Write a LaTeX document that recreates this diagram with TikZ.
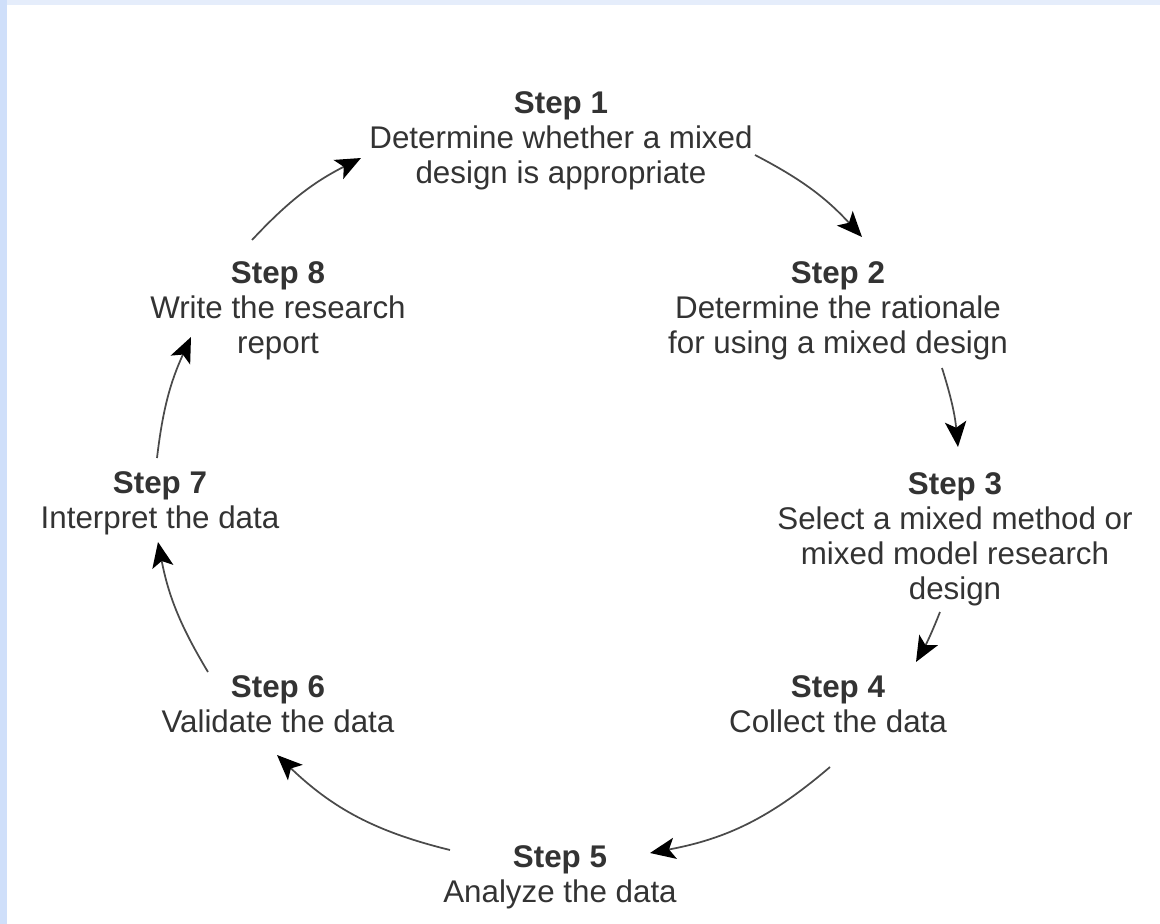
\documentclass[tikz,border=0pt]{standalone}
\usepackage{fontspec}
\setmainfont{Liberation Sans}
\usetikzlibrary{arrows.meta}
\definecolor{txt}{HTML}{333333}
\definecolor{linegray}{HTML}{4A4A4A}
\definecolor{edgeblue}{HTML}{CFDFFA}
\definecolor{topblue}{HTML}{E5EDFB}
\tikzset{
  stepnode/.style={align=center, inner sep=0pt, text=txt,
    font=\fontsize{23.5}{26.3}\selectfont},
  cyclearrow/.style={draw=linegray, line width=1.3pt,
    -{Stealth[length=19pt, width=16pt, inset=4.5pt, color=black, fill=black]}},
}
\begin{document}
\begin{tikzpicture}[x=0.75pt, y=-0.75pt]
  \useasboundingbox (0,0) rectangle (1160,924);
  % page background with the tinted frame on the top and left
  \fill[white] (0,0) rectangle (1160,924);
  \fill[topblue] (0,0) rectangle (1160,5);
  \fill[edgeblue] (0,0) rectangle (7,924);

  % the eight steps
  \node[stepnode] (s1) at (561,141) {\textbf{Step 1}\\Determine whether a mixed\\design is appropriate};
  \node[stepnode] (s2) at (838,311) {\textbf{Step 2}\\Determine the rationale\\for using a mixed design};
  \node[stepnode] (s3) at (955,539) {\textbf{Step 3}\\Select a mixed method or\\mixed model research\\design};
  \node[stepnode] (s4) at (838,704) {\textbf{Step 4}\\Collect the data};
  \node[stepnode] (s5) at (560,877) {\textbf{Step 5}\\Analyze the data};
  \node[stepnode] (s6) at (278,704) {\textbf{Step 6}\\Validate the data};
  \node[stepnode] (s7) at (160,503) {\textbf{Step 7}\\Interpret the data};
  \node[stepnode] (s8) at (278,311) {\textbf{Step 8}\\Write the research\\report};

  % arrow ends around the cycle
  \coordinate (a12) at (755,155);  \coordinate (b12) at (862,237);
  \coordinate (a23) at (942,368);  \coordinate (b23) at (958,447);
  \coordinate (a34) at (940,612);  \coordinate (b34) at (916,662);
  \coordinate (a45) at (830,767);  \coordinate (b45) at (650,853);
  \coordinate (a56) at (450,850);  \coordinate (b56) at (277,755);
  \coordinate (a67) at (208,672);  \coordinate (b67) at (158,542);
  \coordinate (a78) at (157,458);  \coordinate (b78) at (191,337);
  \coordinate (a81) at (252,240);  \coordinate (b81) at (361,158);

  \draw[cyclearrow] (a12) to[bend left=10] (b12);
  \draw[cyclearrow] (a23) to[bend left=6] (b23);
  \draw[cyclearrow] (a34) to[bend left=4] (b34);
  \draw[cyclearrow] (a45) to[bend left=15] (b45);
  \draw[cyclearrow] (a56) to[bend left=15] (b56);
  \draw[cyclearrow] (a67) to[bend left=10] (b67);
  \draw[cyclearrow] (a78) to[bend left=9] (b78);
  \draw[cyclearrow] (a81) to[bend left=10] (b81);
\end{tikzpicture}
\end{document}
